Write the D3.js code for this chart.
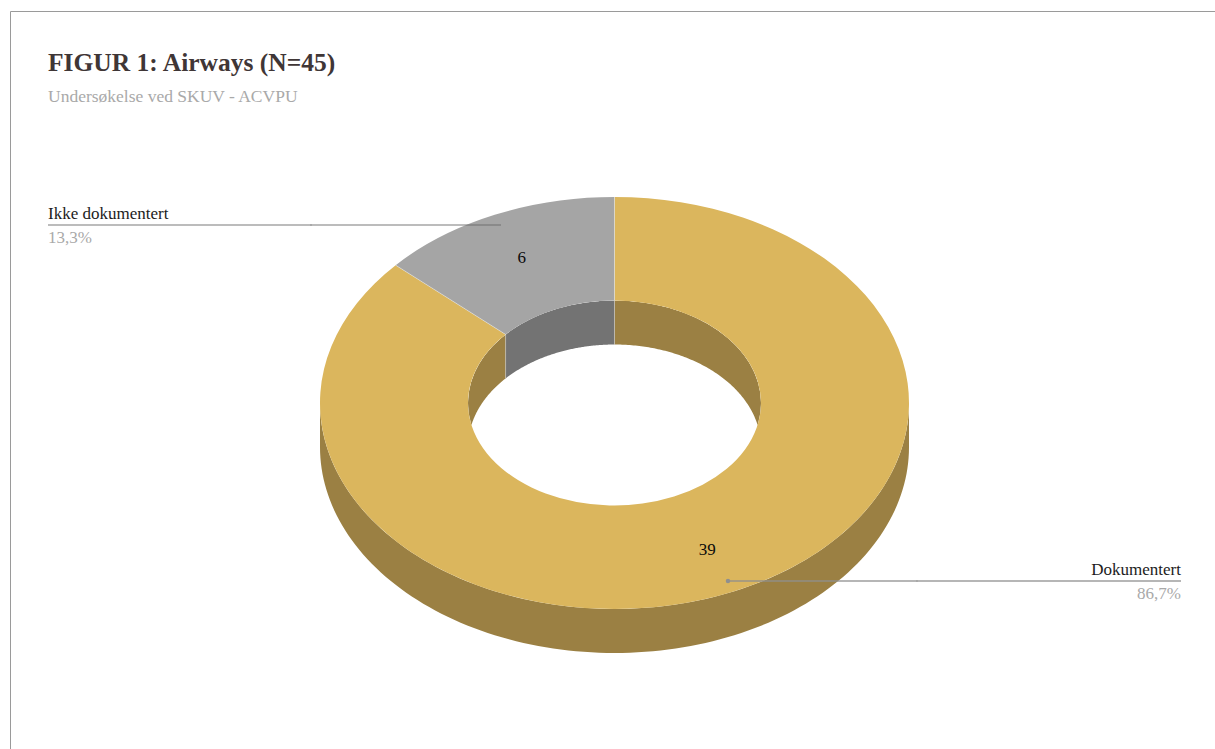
<!DOCTYPE html>
<html>
<head>
<meta charset="utf-8">
<script src="https://cdn.jsdelivr.net/npm/d3@7"></script>
<style>
  html, body { margin: 0; padding: 0; background: #fff; }
  svg { display: block; }
  text { font-family: "Liberation Serif", serif; }
</style>
</head>
<body>
<svg id="chart" width="1215" height="749"></svg>
<script>
// Survey result
const categories = ["Dokumentert", "Ikke dokumentert"];
const counts = [39, 6];
const shares = ["86,7%", "13,3%"];
const titleText = "FIGUR 1: Airways (N=45)";
const subtitleText = "Undersøkelse ved SKUV - ACVPU";

// Palette: top face, then the shaded wall of each slice
const faceColors = ["#dbb65d", "#a5a5a5"];
const wallColors = ["#9b8043", "#737373"];

// Ring geometry
const cx = 614.5, cy = 403;
const rOuter = 294.5, rInner = 146.5;
const tilt = 206 / 294.5;     // vertical squash of the ring
const depth = 44;             // thickness of the ring
const labelRadius = 228, leaderRadius = 279;

const svg = d3.select("#chart");

// Frame, open on the right and at the bottom
svg.append("path")
  .attr("d", "M10.5,749V11.5H1215")
  .attr("fill", "none").attr("stroke", "#9a9a9a").attr("stroke-width", 1);

svg.append("text").text(titleText)
  .attr("x", 48).attr("y", 71)
  .attr("font-size", 25.5).attr("font-weight", "bold").attr("fill", "#3f3636");
svg.append("text").text(subtitleText)
  .attr("x", 48).attr("y", 102)
  .attr("font-size", 17.5).attr("fill", "#a9a9a9");

const pie = d3.pie().sort(null);
const slices = pie(counts);

const px = (r, a) => cx + r * Math.sin(a);
const py = (r, a) => cy - r * tilt * Math.cos(a);

// Part of [a0, a1] that overlaps [lo, hi], trying whole-turn shifts
function overlap(s, lo, hi) {
  const parts = [];
  for (const k of [-1, 0, 1]) {
    const a = Math.max(s.startAngle, lo + k * 2 * Math.PI);
    const b = Math.min(s.endAngle, hi + k * 2 * Math.PI);
    if (b > a) parts.push([a, b]);
  }
  return parts;
}

function wall(radius, [a, b]) {
  const steps = d3.range(0, 121).map(i => a + (b - a) * i / 120);
  return d3.area()
    .x(t => px(radius, t))
    .y0(t => py(radius, t))
    .y1(t => py(radius, t) + depth)(steps);
}

// Only the inside of the hole shows the far inner wall
svg.append("clipPath").attr("id", "hole")
  .append("ellipse")
  .attr("cx", cx).attr("cy", cy)
  .attr("rx", rInner).attr("ry", rInner * tilt);

const sideLayer = svg.append("g");
const innerLayer = svg.append("g").attr("clip-path", "url(#hole)");
const faceLayer = svg.append("g")
  .attr("transform", `translate(${cx},${cy}) scale(1,${tilt})`);

slices.forEach((s, i) => {
  // Near outer wall
  overlap(s, Math.PI / 2, 3 * Math.PI / 2).forEach(range => {
    sideLayer.append("path").attr("d", wall(rOuter, range)).attr("fill", wallColors[i]);
  });
  // Far inner wall
  overlap(s, -Math.PI / 2, Math.PI / 2).forEach(range => {
    innerLayer.append("path").attr("d", wall(rInner, range)).attr("fill", wallColors[i]);
  });
  // Top face
  faceLayer.append("path")
    .attr("d", d3.arc().innerRadius(rInner).outerRadius(rOuter)(s))
    .attr("fill", faceColors[i]);
});

// Pale seams where the slices meet
slices.forEach(s => {
  const a = s.startAngle;
  svg.append("line")
    .attr("x1", px(rInner, a)).attr("y1", py(rInner, a))
    .attr("x2", px(rOuter, a)).attr("y2", py(rOuter, a))
    .attr("stroke", "#fff").attr("stroke-opacity", 0.35).attr("stroke-width", 1);
  innerLayer.append("line")
    .attr("x1", px(rInner, a)).attr("y1", py(rInner, a))
    .attr("x2", px(rInner, a)).attr("y2", py(rInner, a) + depth)
    .attr("stroke", "#fff").attr("stroke-opacity", 0.3).attr("stroke-width", 1);
});

// Counts on the slices
slices.forEach((s, i) => {
  const mid = (s.startAngle + s.endAngle) / 2;
  svg.append("text").text(counts[i])
    .attr("x", px(labelRadius, mid)).attr("y", py(labelRadius, mid) + 6)
    .attr("text-anchor", "middle")
    .attr("font-size", 17).attr("fill", "#0a0a0a");
});

// Leaders with category name above and share below
const leaderStyle = [
  { edge: 1181, anchor: "end", joint: 917, color: "#8f8f8f", width: 2, opacity: 0.65, dot: true },
  { edge: 48, anchor: "start", joint: 311, color: "#6a6a6a", width: 1.2, opacity: 0.9, dot: false }
];

slices.forEach((s, i) => {
  const st = leaderStyle[i];
  const mid = (s.startAngle + s.endAngle) / 2;
  const x0 = px(leaderRadius, mid), y0 = Math.round(py(leaderRadius, mid));
  const dir = st.edge > x0 ? 1 : -1;
  [[x0, st.joint + dir * 0.5], [st.joint - dir * 0.5, st.edge]].forEach(([a, b]) => {
    svg.append("line")
      .attr("x1", a).attr("y1", y0).attr("x2", b).attr("y2", y0)
      .attr("stroke", st.color).attr("stroke-width", st.width).attr("stroke-opacity", st.opacity);
  });
  if (st.dot) {
    svg.append("circle").attr("cx", x0).attr("cy", y0).attr("r", 2.2)
      .attr("fill", st.color);
  }
  svg.append("text").text(categories[i])
    .attr("x", st.edge).attr("y", y0 - 6)
    .attr("text-anchor", st.anchor)
    .attr("font-size", 17).attr("fill", "#1c1c1c");
  svg.append("text").text(shares[i])
    .attr("x", st.edge).attr("y", y0 + 18)
    .attr("text-anchor", st.anchor)
    .attr("font-size", 17).attr("fill", "#a9a9a9");
});
</script>
</body>
</html>
